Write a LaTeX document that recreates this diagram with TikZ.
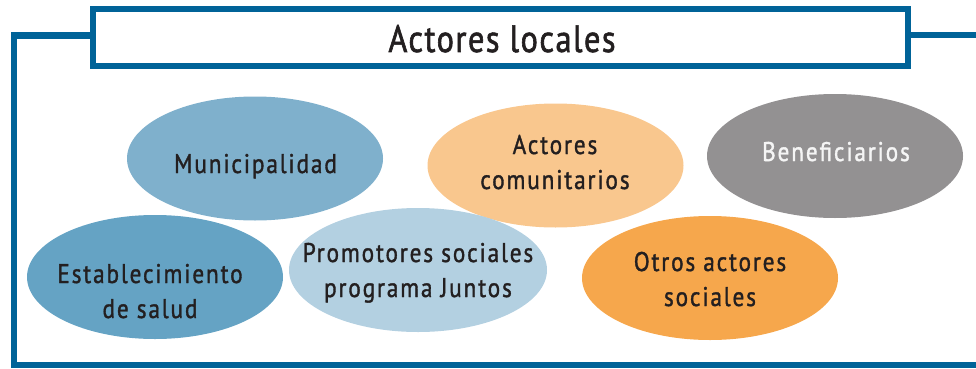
\documentclass[tikz,border=0pt]{standalone}
\usepackage{fontspec}
\setmainfont{PT Sans}[FakeStretch=0.86, LetterSpace=7, FakeBold=1.3]
\newfontfamily\titlefont{PT Sans}[FakeStretch=0.85, LetterSpace=4, FakeBold=1.6]
\usetikzlibrary{shapes.geometric}
\definecolor{frameblue}{RGB}{0,99,152}
\definecolor{munic}{RGB}{127,176,204}
\definecolor{estab}{RGB}{101,163,196}
\definecolor{promo}{RGB}{179,208,225}
\definecolor{peach}{RGB}{249,199,142}
\definecolor{orangec}{RGB}{246,167,76}
\definecolor{grayc}{RGB}{147,145,146}
\definecolor{txt}{RGB}{35,31,32}
\definecolor{lighttxt}{RGB}{245,245,245}
\tikzset{
  blob/.style={ellipse, inner sep=0pt, minimum width=256pt, minimum height=124pt},
  lbl/.style={anchor=base, align=center, text=txt, inner sep=0pt,
     font=\fontsize{27}{35}\selectfont},
  titlebox/.style={draw=frameblue, line width=5.5pt, fill=white, minimum width=815pt,
     minimum height=57pt, inner sep=0pt},
  frameline/.style={draw=frameblue, line width=6.5pt, miter limit=10}
}
\begin{document}
\begin{tikzpicture}[x=1pt, y=-1pt]
\useasboundingbox (0,0) rectangle (976,369);
% frame
\node[titlebox] (title) at (500.5,37.5) {};
\coordinate (tl) at (14,35.5);
\coordinate (bl) at (14,365);
\coordinate (br) at (976,365);
\coordinate (tr) at (976,35.5);
\draw[frameline] (title.west |- tl) -- (tl) -- (bl) -- (br);
\draw[frameline, line width=6pt] (title.east |- tr) -- (tr);
\node[anchor=base, text=txt, inner sep=0pt, font=\titlefont\fontsize{38}{40}\selectfont] (ttl) at (502,52) {Actores locales};
% ellipses
\node[blob, fill=munic] (mun) at (255,158.5) {};
\node[blob, fill=peach] (com) at (555.5,165.5) {};
\node[blob, fill=grayc] (ben) at (835,156) {};
\node[blob, fill=estab] (est) at (155,277) {};
\node[blob, fill=promo, minimum width=258pt] (pro) at (418,270) {};
\node[blob, fill=orangec] (otr) at (710,278) {};
% labels (base = baseline of the last line)
\node[lbl] (tmun) at (255.5,173) {Municipalidad};
\node[lbl] (tcom) at (555,189) {Actores\\comunitarios};
\node[lbl, text=lighttxt] (tben) at (836,161) {Beneficiarios};
\node[lbl] (test) at (150,318) {Establecimiento\\de salud};
\node[lbl] (tpro) at (418,297) {Promotores sociales\\programa Juntos};
\node[lbl] (totr) at (710,306) {Otros actores\\sociales};
\end{tikzpicture}
\end{document}
